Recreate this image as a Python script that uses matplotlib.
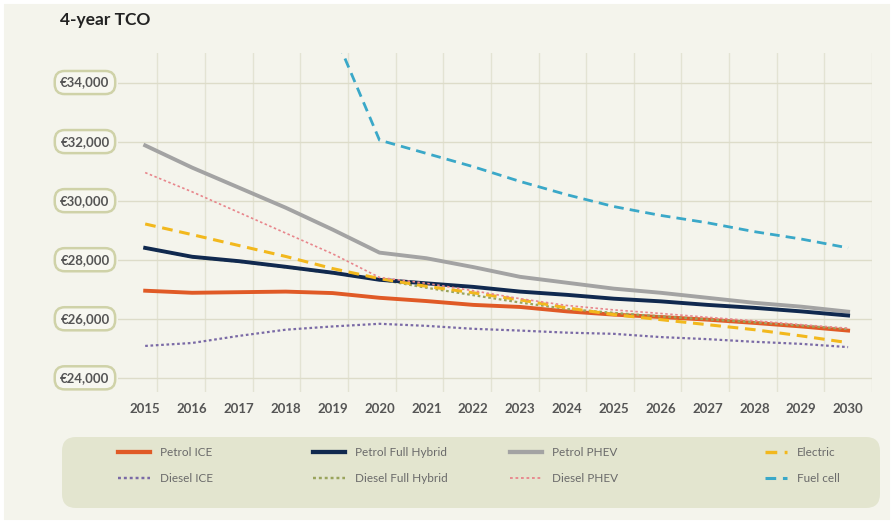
import numpy as np
import matplotlib.pyplot as plt
from matplotlib.lines import Line2D
from matplotlib.patches import FancyBboxPatch, Rectangle
from matplotlib.transforms import IdentityTransform

plt.rcParams["font.family"] = ["Lato", "DejaVu Sans"]

years = list(range(2015, 2031))

petrol_ice = [26950, 26880, 26900, 26920, 26870, 26710, 26600, 26470, 26400, 26250,
              26140, 26060, 25970, 25860, 25740, 25600]
petrol_full_hybrid = [28400, 28100, 27950, 27760, 27560, 27320, 27200, 27080, 26920, 26810,
                      26680, 26590, 26470, 26370, 26250, 26110]
petrol_phev = [31870, 31120, 30440, 29760, 29020, 28240, 28050, 27750, 27420, 27220,
               27020, 26880, 26710, 26540, 26410, 26240]
electric = [29210, 28850, 28480, 28110, 27700, 27360, 27100, 26880, 26640, 26370,
            26140, 25970, 25800, 25630, 25420, 25190]
diesel_ice = [25080, 25180, 25420, 25630, 25740, 25830, 25760, 25660, 25600, 25530,
              25490, 25380, 25310, 25220, 25150, 25040]
diesel_full_hybrid = [28380, 28080, 27930, 27740, 27540, 27330, 27050, 26800, 26550, 26330,
                      26200, 26080, 25980, 25880, 25770, 25650]
diesel_phev = [30950, 30300, 29600, 28900, 28200, 27400, 27200, 26950, 26680, 26450,
               26300, 26180, 26050, 25930, 25800, 25680]
fuel_cell_years = list(range(2019, 2031))
fuel_cell = [35800, 32050, 31600, 31150, 30650, 30200, 29800, 29500, 29250, 28950,
             28700, 28400]

y_ticks = [24000, 26000, 28000, 30000, 32000, 34000]

STYLES = {
    "Petrol ICE": dict(color="#e05a26", lw=2.8, ls="-"),
    "Diesel ICE": dict(color="#7a6aa6", lw=1.6, ls=(0, (1.2, 1.2))),
    "Petrol Full Hybrid": dict(color="#10294f", lw=2.8, ls="-"),
    "Diesel Full Hybrid": dict(color="#9aa45c", lw=1.6, ls=(0, (1.2, 1.2))),
    "Petrol PHEV": dict(color="#a3a3a3", lw=2.8, ls="-"),
    "Diesel PHEV": dict(color="#e8868c", lw=1.2, ls=(0, (1.5, 1.5))),
    "Electric": dict(color="#f2b81d", lw=2.2, ls=(0, (3.5, 2.2))),
    "Fuel cell": dict(color="#3aa8c8", lw=2.0, ls=(0, (3.5, 2.2))),
}

BG = "#f4f4ec"

fig = plt.figure(figsize=(8.93, 5.23), dpi=100, facecolor=BG)
fig.patches.append(Rectangle((0, 0), 1, 1, transform=fig.transFigure, fill=False,
                             edgecolor="white", lw=5))
ax = fig.add_axes([118 / 893, 1 - 392 / 523, 754 / 893, 339 / 523])
ax.set_facecolor(BG)

# gridlines (vertical ones are offset from the year positions in the original)
for gx in np.linspace(2015.26, 2030.51, 16):
    ax.axvline(gx, color="#e3e3d3", lw=1.0, zorder=0)
for gy in y_ticks:
    ax.axhline(gy, color="#dddcc9", lw=1.0, zorder=0)

ax.plot(years, petrol_phev, **STYLES["Petrol PHEV"], zorder=2)
ax.plot(years, petrol_ice, **STYLES["Petrol ICE"], zorder=3)
ax.plot(years, diesel_full_hybrid, **STYLES["Diesel Full Hybrid"], zorder=3.2)
ax.plot(years, petrol_full_hybrid, **STYLES["Petrol Full Hybrid"], zorder=3.5)
ax.plot(years, electric, **STYLES["Electric"], zorder=4)
ax.plot(fuel_cell_years, fuel_cell, **STYLES["Fuel cell"], zorder=4)
ax.plot(years, diesel_ice, **STYLES["Diesel ICE"], zorder=5)
ax.plot(years, diesel_phev, **STYLES["Diesel PHEV"], zorder=5)

ax.set_xlim(2014.42, 2030.51)
ax.set_ylim(23520, 35000)
for s in ax.spines.values():
    s.set_visible(False)

ax.set_xticks(years)
ax.set_xticklabels([str(y) for y in years], fontsize=9.5, fontweight="bold", color="#555555")
ax.tick_params(axis="x", length=0, pad=8)
ax.set_yticks([])

for v in y_ticks:
    ax.text(-0.0438, v, f"€{v:,}", transform=ax.get_yaxis_transform(), ha="center",
            va="center", fontsize=9.5, fontweight="bold", color="#555555",
            bbox=dict(boxstyle="round,pad=0.42,rounding_size=0.75", fc="#f7f7f0",
                      ec="#cfd2a8", lw=1.8))

fig.text(60 / 893, 1 - 20 / 523, "4-year TCO", fontsize=12.5, fontweight="bold",
         color="#222222", va="center", ha="left")

# legend panel
px = IdentityTransform()
fig.patches.append(FancyBboxPatch((62, 523 - 508), 818, 71, transform=px,
                                  boxstyle="round,pad=0,rounding_size=14",
                                  fc="#e3e5cf", ec="none"))
legend_cols = [118, 313, 510, 765]
legend_rows = [523 - 452, 523 - 478]
legend_order = [["Petrol ICE", "Diesel ICE"], ["Petrol Full Hybrid", "Diesel Full Hybrid"],
                ["Petrol PHEV", "Diesel PHEV"], ["Electric", "Fuel cell"]]
for cx, names in zip(legend_cols, legend_order):
    for ry, name in zip(legend_rows, names):
        st = STYLES[name]
        hl = 32 if cx != 765 else 22
        fig.add_artist(Line2D([cx, cx + hl], [ry, ry], transform=px, color=st["color"],
                              lw=st["lw"] * 1.1, ls=st["ls"]))
        fig.text((cx + hl + 10) / 893, ry / 523, name, fontsize=8.5, color="#6a6a6a",
                 va="center", ha="left")

fig.savefig("out.png", dpi=100, facecolor=BG)
